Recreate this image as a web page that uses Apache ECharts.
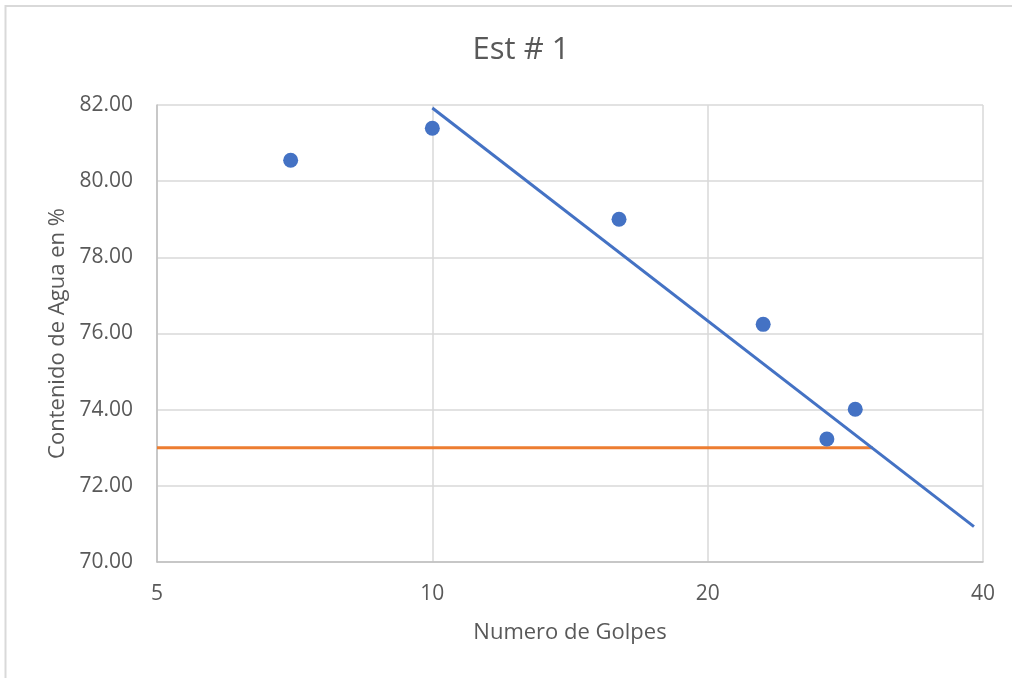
<!DOCTYPE html>
<html>
<head>
<meta charset="utf-8">
<title>Est # 1</title>
<script src="https://cdn.jsdelivr.net/npm/echarts@6/dist/echarts.min.js"></script>
<style>
  html, body { margin: 0; padding: 0; background: #ffffff; }
  #chart { width: 1012px; height: 678px; }
</style>
</head>
<body>
<div id="chart"></div>
<script>
// Blow count axis is logarithmic (base 2), starting at 5 blows
const X_BASE = 5;
const xTicks = [5, 10, 20, 40];
const yTicks = [70, 72, 74, 76, 78, 80, 82];

// Measured samples: number of blows vs. water content (%)
const golpes = [7, 10, 16, 23, 27, 29];
const humedad = [80.55, 81.39, 79.00, 76.24, 73.23, 74.01];

// Logarithmic trend line (end points)
const trendGolpes = [10, 39.1];
const trendHumedad = [81.92, 70.93];

// Reference water content line
const limiteGolpes = [5, 30.3];
const limiteHumedad = [73.0, 73.0];

const toAxis = x => Math.log2(x / X_BASE);
const pairs = (xs, ys) => xs.map((x, i) => [toAxis(x), ys[i]]);

const TEXT = '#595959';
const FONT = 'Open Sans';
const GRID = '#d9d9d9';

const chart = echarts.init(document.getElementById('chart'), null, { renderer: 'canvas' });

chart.setOption({
  backgroundColor: '#ffffff',
  animation: false,
  textStyle: { fontFamily: FONT, color: TEXT },
  title: {
    text: 'Est # 1',
    left: 516,
    top: 30,
    textAlign: 'center',
    textStyle: { fontFamily: FONT, fontSize: 31, fontWeight: 'normal', color: TEXT }
  },
  graphic: [{
    type: 'rect',
    silent: true,
    z: -10,
    shape: { x: 5.5, y: 6, width: 1100, height: 800 },
    style: { fill: 'none', stroke: GRID, lineWidth: 2 }
  }],
  grid: {
    left: 157, right: 29, top: 105, bottom: 116,
    containLabel: false,
    outerBoundsMode: 'none'
  },
  xAxis: {
    type: 'value',
    min: toAxis(xTicks[0]),
    max: toAxis(xTicks[xTicks.length - 1]),
    interval: 1,
    name: 'Numero de Golpes',
    nameLocation: 'middle',
    nameGap: 60,
    nameTextStyle: { fontFamily: FONT, fontSize: 22, color: TEXT },
    axisLine: { show: true, lineStyle: { color: '#bfbfbf', width: 1.5 } },
    axisTick: { show: false },
    splitLine: { show: true, lineStyle: { color: GRID, width: 1.5 } },
    axisLabel: {
      fontFamily: FONT, fontSize: 21, color: TEXT, margin: 22,
      formatter: v => String(Math.round(X_BASE * Math.pow(2, v)))
    }
  },
  yAxis: {
    type: 'value',
    min: yTicks[0],
    max: yTicks[yTicks.length - 1],
    interval: yTicks[1] - yTicks[0],
    name: 'Contenido de Agua en %',
    nameLocation: 'middle',
    nameGap: 84,
    nameTextStyle: { fontFamily: FONT, fontSize: 22, color: TEXT },
    axisLine: { show: true, lineStyle: { color: '#bfbfbf', width: 1.5 } },
    axisTick: { show: false },
    splitLine: { show: true, lineStyle: { color: GRID, width: 1.5 } },
    axisLabel: {
      fontFamily: FONT, fontSize: 21, color: TEXT, margin: 24,
      formatter: v => v.toFixed(2)
    }
  },
  series: [
    {
      name: 'Contenido de agua',
      type: 'scatter',
      symbol: 'circle',
      symbolSize: 15,
      itemStyle: { color: '#4472c4', opacity: 1 },
      data: pairs(golpes, humedad),
      z: 3
    },
    {
      name: 'Tendencia',
      type: 'line',
      showSymbol: false,
      symbol: 'none',
      lineStyle: { color: '#4472c4', width: 3 },
      data: pairs(trendGolpes, trendHumedad),
      z: 4
    },
    {
      name: 'Límite',
      type: 'line',
      showSymbol: false,
      symbol: 'none',
      lineStyle: { color: '#ed7d31', width: 3 },
      data: pairs(limiteGolpes, limiteHumedad),
      z: 2
    }
  ]
});
</script>
</body>
</html>
